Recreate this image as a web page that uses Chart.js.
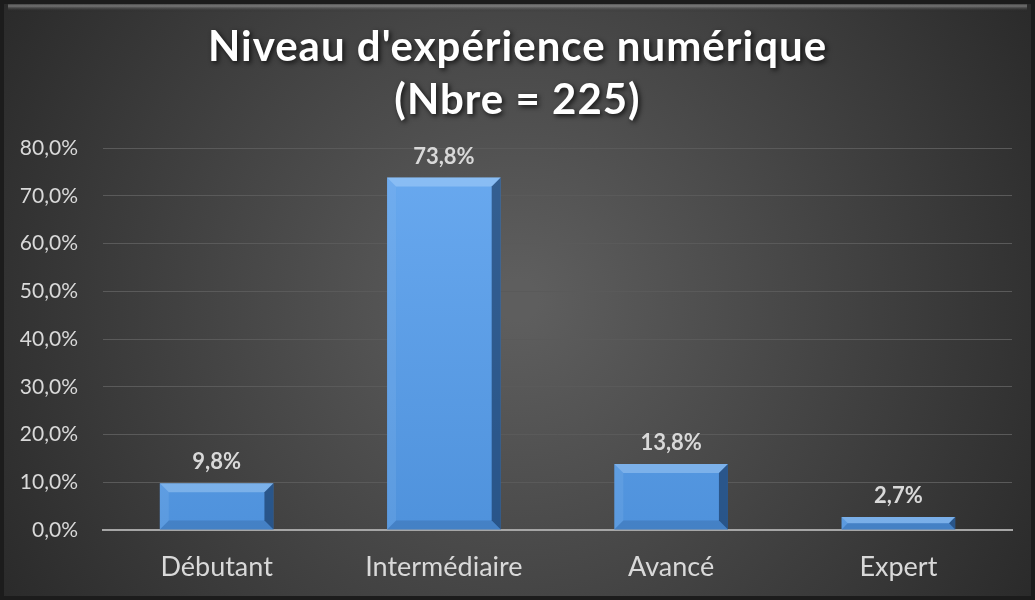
<!DOCTYPE html>
<html lang="fr">
<head>
<meta charset="UTF-8">
<title>Niveau d'expérience numérique</title>
<script src="https://cdn.jsdelivr.net/npm/chart.js"></script>
<style>
  html, body { margin: 0; padding: 0; background: #fff; }
  #wrap { width: 1035px; height: 600px; position: relative; }
</style>
</head>
<body>
<div id="wrap"><canvas id="chart"></canvas></div>
<script>
  // data
  var categories = ['Débutant', 'Intermédiaire', 'Avancé', 'Expert'];
  var percents = [9.8, 73.8, 13.8, 2.7];
  var titleLines = ["Niveau d'expérience numérique", "(Nbre = 225)"];
  var yMax = 80;
  var yStep = 10;

  function frPct(v) { return v.toFixed(1).replace('.', ',') + '%'; }

  // dark radial background with a thin frame
  var backdrop = {
    id: 'backdrop',
    beforeDraw: function (chart) {
      var ctx = chart.ctx, w = chart.width, h = chart.height;
      ctx.save();
      var g = ctx.createRadialGradient(w / 2, h / 2, 20, w / 2, h / 2, w * 0.62);
      g.addColorStop(0, '#5e5e5e');
      g.addColorStop(1, '#262626');
      ctx.fillStyle = g;
      ctx.fillRect(0, 0, w, h);
      // top highlight bevel
      var tg = ctx.createLinearGradient(0, 0, 0, 12);
      tg.addColorStop(0, 'rgba(0,0,0,0)');
      tg.addColorStop(0.5, 'rgba(200,200,200,0.45)');
      tg.addColorStop(1, 'rgba(0,0,0,0)');
      ctx.fillStyle = tg;
      ctx.fillRect(8, 2, w - 16, 10);
      ctx.strokeStyle = '#1c1c1c';
      ctx.lineWidth = 4;
      ctx.strokeRect(2, 2, w - 4, h - 4);
      ctx.restore();
    }
  };

  // title with soft shadow
  var shadowTitle = {
    id: 'shadowTitle',
    afterDraw: function (chart) {
      var ctx = chart.ctx;
      ctx.save();
      ctx.font = 'bold 42px Lato, "Open Sans", sans-serif';
      ctx.letterSpacing = '1px';
      ctx.fillStyle = '#ffffff';
      ctx.textAlign = 'center';
      ctx.textBaseline = 'middle';
      ctx.shadowColor = 'rgba(0,0,0,0.75)';
      ctx.shadowBlur = 5;
      ctx.shadowOffsetX = 2;
      ctx.shadowOffsetY = 2;
      ctx.fillText(titleLines[0], chart.width / 2, 47);
      ctx.fillText(titleLines[1], chart.width / 2, 100);
      ctx.restore();
    }
  };

  // bevel on bars + value labels
  var bevelLabels = {
    id: 'bevelLabels',
    afterDatasetsDraw: function (chart) {
      var ctx = chart.ctx;
      var meta = chart.getDatasetMeta(0);
      ctx.save();
      meta.data.forEach(function (bar, i) {
        var l = bar.x - bar.width / 2, r = bar.x + bar.width / 2;
        var t = bar.y, b = bar.base;
        var d = Math.min(9, (b - t) / 2);
        // top facet
        ctx.fillStyle = 'rgba(200,228,255,0.35)';
        ctx.beginPath();
        ctx.moveTo(l, t); ctx.lineTo(r, t); ctx.lineTo(r - d, t + d); ctx.lineTo(l + d, t + d);
        ctx.closePath(); ctx.fill();
        // left facet
        ctx.fillStyle = 'rgba(150,195,240,0.18)';
        ctx.beginPath();
        ctx.moveTo(l, t); ctx.lineTo(l + d, t + d); ctx.lineTo(l + d, b - d); ctx.lineTo(l, b);
        ctx.closePath(); ctx.fill();
        // right facet
        ctx.fillStyle = 'rgba(10,35,70,0.55)';
        ctx.beginPath();
        ctx.moveTo(r, t); ctx.lineTo(r - d, t + d); ctx.lineTo(r - d, b - d); ctx.lineTo(r, b);
        ctx.closePath(); ctx.fill();
        // bottom facet
        ctx.fillStyle = 'rgba(30,70,120,0.22)';
        ctx.beginPath();
        ctx.moveTo(l, b); ctx.lineTo(r, b); ctx.lineTo(r - d, b - d); ctx.lineTo(l + d, b - d);
        ctx.closePath(); ctx.fill();

        ctx.font = 'bold 22px Lato, "Open Sans", sans-serif';
        ctx.fillStyle = '#d9d9d9';
        ctx.textAlign = 'center';
        ctx.textBaseline = 'bottom';
        ctx.fillText(frPct(percents[i]), bar.x, t - 10);
      });
      ctx.restore();
    }
  };

  var ctx = document.getElementById('chart').getContext('2d');
  var chart = new Chart(ctx, {
    type: 'bar',
    data: {
      labels: categories,
      datasets: [{
        data: percents,
        backgroundColor: function (c) {
          var area = c.chart.chartArea;
          if (!area) return '#5b9bd5';
          var g = c.chart.ctx.createLinearGradient(0, area.top, 0, area.bottom);
          g.addColorStop(0, '#6aaaf0');
          g.addColorStop(1, '#4f92dc');
          return g;
        },
        borderWidth: 0,
        categoryPercentage: 1.0,
        barPercentage: 0.5
      }]
    },
    options: {
      responsive: true,
      maintainAspectRatio: false,
      animation: false,
      layout: { padding: { top: 148, left: 16, right: 23, bottom: 0 } },
      plugins: {
        legend: { display: false },
        title: { display: false },
        tooltip: { enabled: false }
      },
      scales: {
        x: {
          afterFit: function (scale) { scale.height = 70; },
          grid: { display: false, drawTicks: false },
          border: { color: '#a6a6a6', width: 2 },
          ticks: {
            color: '#d9d9d9',
            padding: 21,
            font: { family: 'Lato, "Open Sans", sans-serif', size: 27 }
          }
        },
        y: {
          afterFit: function (scale) { scale.width = 87; },
          min: 0,
          max: yMax,
          grid: { color: '#5a5a5a', lineWidth: 1, drawTicks: false },
          border: { display: false },
          ticks: {
            stepSize: yStep,
            color: '#d9d9d9',
            padding: 25,
            font: { family: 'Lato, "Open Sans", sans-serif', size: 21 },
            callback: function (v) { return frPct(v); }
          }
        }
      }
    },
    plugins: [backdrop, shadowTitle, bevelLabels]
  });
</script>
</body>
</html>
